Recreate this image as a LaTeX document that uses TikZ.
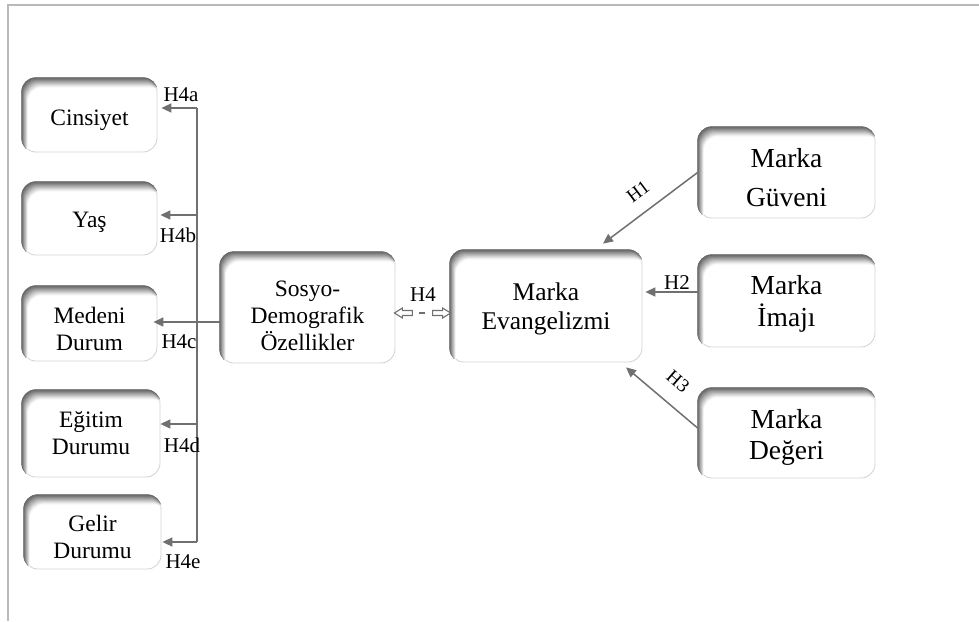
\documentclass[tikz,border=0pt]{standalone}
\usepackage{fontspec}
\setmainfont{Liberation Serif}
\usetikzlibrary{calc,arrows.meta}
\definecolor{ln}{RGB}{112,112,112}
\tikzset{
  box/.style={draw=gray!35, line width=0.8pt, fill=white, rounded corners=14pt, inner sep=0pt},
  stxt/.style={align=center, inner sep=0pt, font=\fontsize{23.5}{27}\selectfont},
  etxt/.style={align=center, inner sep=0pt, font=\fontsize{25.5}{28.5}\selectfont},
  ltxt/.style={align=center, inner sep=0pt, font=\fontsize{27.5}{#1}\selectfont},
  arr/.style={draw=ln, line width=1.5pt, -{Triangle[length=10pt,width=9pt]}},
  plain/.style={draw=ln, line width=1.5pt},
  blockarr/.style={draw=ln, line width=1.1pt, fill=white, line join=miter},
  lab/.style={inner sep=0pt, font=\fontsize{21}{24}\selectfont},
  slab/.style={inner sep=0pt, font=\fontsize{19}{22}\selectfont},
}
\newcommand{\innershade}[1]{%
  \begin{scope}
    \clip[rounded corners=14pt] (#1.south west) rectangle (#1.north east);
    \foreach \k in {9,8,...,1}{%
      \pgfmathsetmacro{\shd}{66-7*\k}%
      \fill[black!\shd, even odd rule, rounded corners=14pt]
        ($(#1.south west)+(-30,30)$) rectangle ($(#1.north east)+(30,-30)$)
        ($(#1.south west)+(0.7*\k,1.1*\k)$) rectangle ($(#1.north east)+(0.7*\k,1.1*\k)$);
    }
  \end{scope}}
\begin{document}
\begin{tikzpicture}[x=1pt,y=-1pt]
\useasboundingbox (0,0) rectangle (979,621);
\fill[white] (0,0) rectangle (979,621);
\draw[gray!55, line width=2pt] (8,621) -- (8,5) -- (979,5);

% boxes
\node[box, minimum width=135pt, minimum height=74pt] (cins) at (89.5,115) {};
\node[box, minimum width=135pt, minimum height=73pt] (yas) at (89.5,218.5) {};
\node[box, minimum width=135pt, minimum height=75pt] (med) at (89.5,323.5) {};
\node[box, minimum width=138pt, minimum height=87pt] (egi) at (91,433.5) {};
\node[box, minimum width=137pt, minimum height=74pt] (gel) at (92.5,532) {};
\node[box, minimum width=175pt, minimum height=111pt] (sos) at (307.5,307.5) {};
\node[box, minimum width=192pt, minimum height=112pt] (eva) at (546,306) {};
\node[box, minimum width=177pt, minimum height=91pt] (guv) at (786.5,172.5) {};
\node[box, minimum width=177pt, minimum height=92pt] (ima) at (786.5,301) {};
\node[box, minimum width=177pt, minimum height=90pt] (deg) at (786.5,433) {};
\foreach \b in {cins,yas,med,egi,gel,sos,eva,guv,ima,deg}{\innershade{\b}}

% texts
\node[stxt] (cins-t) at ($(cins.center)+(0,5)$) {Cinsiyet};
\node[stxt] (yas-t) at ($(yas.center)+(0,3.5)$) {Yaş};
\node[stxt] (med-t) at ($(med.center)+(0,5.5)$) {Medeni\\Durum};
\node[stxt] (egi-t) at ($(egi.center)+(0,0)$) {Eğitim\\Durumu};
\node[stxt] (gel-t) at ($(gel.center)+(0,5)$) {Gelir\\Durumu};
\node[stxt] (sos-t) at ($(sos.center)+(0,8.5)$) {Sosyo-\\Demografik\\Özellikler};
\node[etxt] (eva-t) at ($(eva.center)+(0,3)$) {Marka\\Evangelizmi};
\node[ltxt=39] (guv-t) at ($(guv.center)+(0,5)$) {Marka\\Güveni};
\node[ltxt=32] (ima-t) at ($(ima.center)+(0,3)$) {Marka\\İmajı};
\node[ltxt=31] (deg-t) at ($(deg.center)+(0,4.5)$) {Marka\\Değeri};

% bus
\coordinate (bt) at (197,108);
\coordinate (b2) at (197,215);
\coordinate (b3) at (197,322);
\coordinate (b4) at (197,424);
\coordinate (bb) at (197,542);
\draw[plain] (bt) -- (bb);
\draw[arr] (bt) -- ($(cins.east |- bt)+(4,0)$);
\draw[arr] (b2) -- ($(yas.east |- b2)+(3,0)$);
\draw[arr] ($(sos.west)+(0,14.5)$) -- ($(med.east |- b3)+(-4,0)$);
\draw[arr] (b4) -- ($(egi.east |- b4)+(0,0)$);
\draw[arr] (bb) -- ($(gel.east |- bb)+(1,0)$);

\node[lab] (l4a) at (181,95) {H4a};
\node[lab] (l4b) at (178,235) {H4b};
\node[lab] (l4c) at (179,342) {H4c};
\node[lab] (l4d) at (182,445) {H4d};
\node[lab] (l4e) at (183,562) {H4e};

% H4
\coordinate (m) at (422,313);
\coordinate (tl) at ($(sos.east |- m)+(-1,0)$);
\coordinate (tr) at ($(eva.west |- m)+(1,0)$);
\draw[blockarr] (tl) -- ++(8,-5) -- ++(0,2.5) -- ++(10,0) -- ++(0,5) -- ++(-10,0) -- ++(0,2.5) -- cycle;
\draw[blockarr] (tr) -- ++(-8,-5) -- ++(0,2.5) -- ++(-10,0) -- ++(0,5) -- ++(10,0) -- ++(0,2.5) -- cycle;
\draw[draw=ln, line width=1.4pt] ($(m)+(-3,0)$) -- ($(m)+(3,0)$);
\node[lab] (l4) at (423,295) {H4};

% H1-H3
\draw[arr] (guv.west) -- ($(eva.north)+(57,-6)$);
\node[slab, rotate=37] (l1) at (638,192) {H1};
\draw[arr] ($(ima.west)+(0,-9)$) -- ($(eva.east)+(3,-14)$);
\node[lab] (l2) at (677,283) {H2};
\draw[arr] ($(deg.west)+(0,-5)$) -- ($(eva.south)+(80,5)$);
\node[slab, rotate=-41] (l3) at (678,381) {H3};
\end{tikzpicture}
\end{document}
